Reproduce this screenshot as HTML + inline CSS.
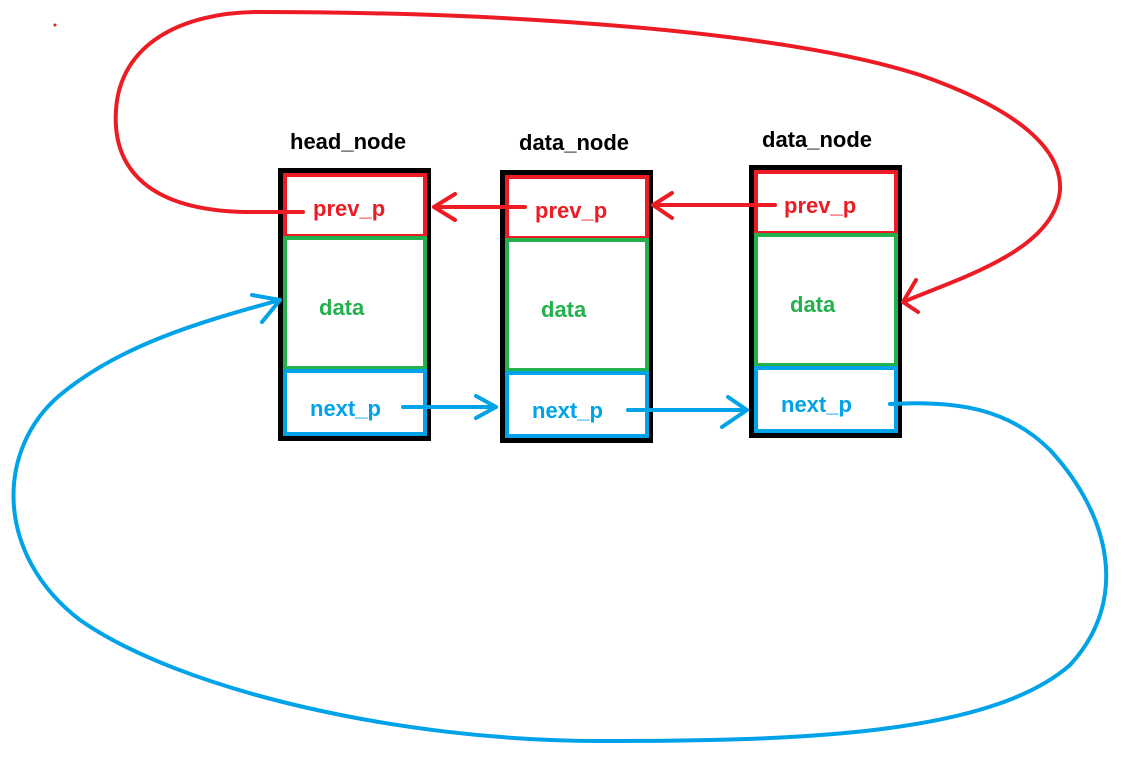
<!DOCTYPE html>
<html><head><meta charset="utf-8"><style>
html,body{margin:0;padding:0;background:#fff;}
svg{display:block}
text{font-family:"Liberation Sans",sans-serif;font-weight:bold;}
</style></head><body>
<svg width="1128" height="761" viewBox="0 0 1128 761" xmlns="http://www.w3.org/2000/svg">
<g fill="none">
<rect x="280.5" y="170.5" width="148" height="268" stroke="#000" stroke-width="5"/>
<rect x="285" y="175" width="140" height="61" stroke="#ed1c24" stroke-width="4"/>
<rect x="285" y="238" width="140" height="130" stroke="#22b14c" stroke-width="4"/>
<rect x="285" y="371" width="140" height="63" stroke="#00a2e8" stroke-width="4"/>

<rect x="502.5" y="172.5" width="148" height="268" stroke="#000" stroke-width="5"/>
<rect x="507" y="177" width="140" height="61" stroke="#ed1c24" stroke-width="4"/>
<rect x="507" y="240" width="140" height="130" stroke="#22b14c" stroke-width="4"/>
<rect x="507" y="373" width="140" height="63" stroke="#00a2e8" stroke-width="4"/>

<rect x="751.5" y="167.5" width="148" height="268" stroke="#000" stroke-width="5"/>
<rect x="756" y="172" width="140" height="61" stroke="#ed1c24" stroke-width="4"/>
<rect x="756" y="235" width="140" height="130" stroke="#22b14c" stroke-width="4"/>
<rect x="756" y="368" width="140" height="63" stroke="#00a2e8" stroke-width="4"/>
</g>
<g font-size="22" fill="#000">
<text x="290" y="149">head_node</text>
<text x="519" y="150">data_node</text>
<text x="762" y="147">data_node</text>
</g>
<g font-size="22" fill="#ed1c24">
<text x="313" y="216">prev_p</text>
<text x="535" y="218">prev_p</text>
<text x="784" y="213">prev_p</text>
</g>
<g font-size="22" fill="#22b14c">
<text x="319" y="315">data</text>
<text x="541" y="317">data</text>
<text x="790" y="312">data</text>
</g>
<g font-size="22" fill="#00a2e8">
<text x="310" y="416">next_p</text>
<text x="532" y="418">next_p</text>
<text x="781" y="412">next_p</text>
</g>
<g fill="none" stroke="#ed1c24" stroke-width="4" stroke-linecap="round" stroke-linejoin="round">
<path d="M525,207 L434,207 M455,194 L434,207 L455,220"/>
<path d="M775,205 L653,205 M672,193 L653,205 L672,218"/>
<path d="M303,212 L245,212 C150,210 112,170 116,110 C120,45 180,12 260,12 C500,12 780,30 920,75 C1020,110 1062,150 1060,190 C1055,250 960,278 903,302"/>
<path d="M916,280 L903,302 L918,312"/>
<circle cx="55" cy="25" r="1.5" fill="#ed1c24" stroke="none"/>
</g>
<g fill="none" stroke="#00a2e8" stroke-width="4" stroke-linecap="round" stroke-linejoin="round">
<path d="M403,407 L496,407 M476,396 L496,407 L476,418"/>
<path d="M628,410 L747,410 M728,397 L747,410 L722,427"/>
<path d="M890,404 C960,400 1010,410 1050,450 C1110,515 1130,600 1070,665 C990,735 800,741 600,741 C400,741 180,690 80,620 C-5,555 -5,450 60,395 C120,345 200,322 280,300"/>
<path d="M252,295 L280,300 L262,322"/>
</g>
</svg>
</body></html>
